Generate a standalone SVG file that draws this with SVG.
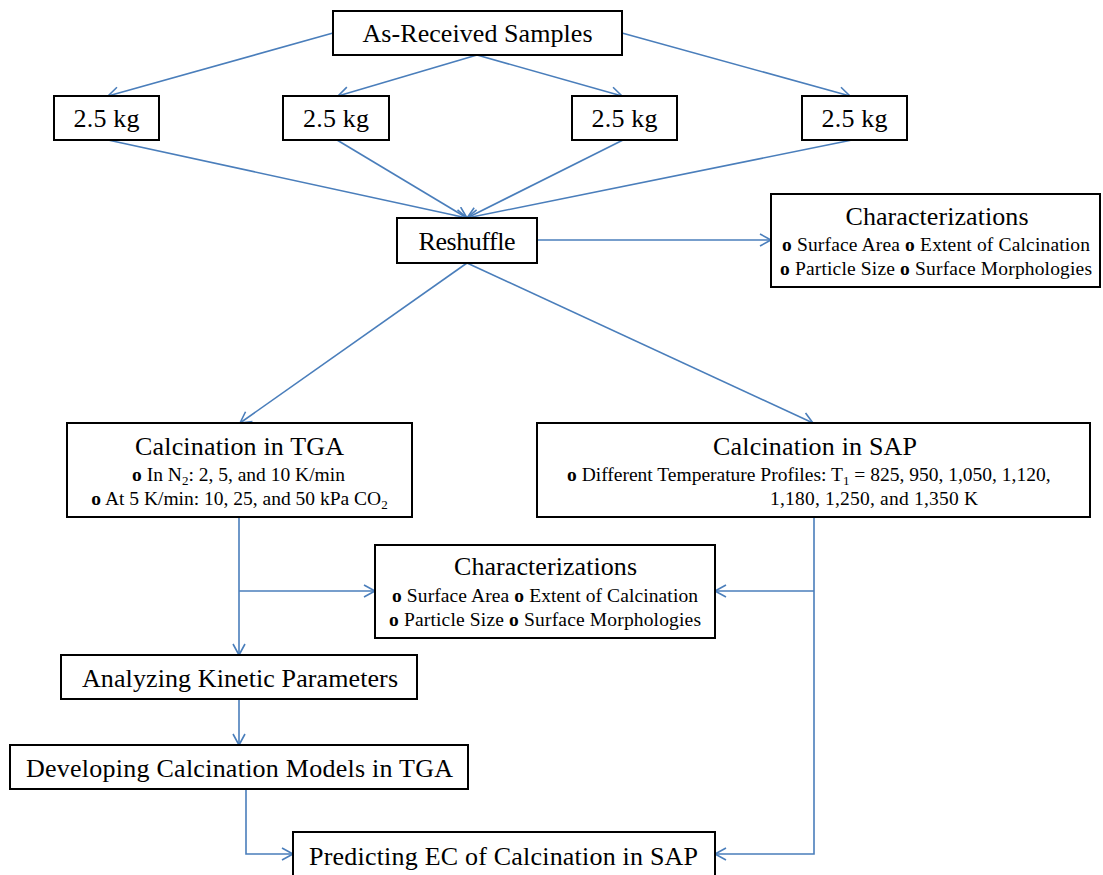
<svg xmlns="http://www.w3.org/2000/svg" width="1103" height="875" viewBox="0 0 1103 875">
<style>
.box{fill:#fff;stroke:#000;stroke-width:2}
.t{font-family:"Liberation Serif","Times New Roman",serif;fill:#000}
.h{font-size:26px;text-anchor:middle}
.s{font-size:19.5px}
.c{text-anchor:middle}
.b{font-weight:bold}
.sub{font-size:13px}
.ln{fill:none;stroke:#4A7EBB;stroke-width:1.6}
</style>
<defs>
<marker id="a" markerWidth="14" markerHeight="14" refX="12" refY="7" orient="auto" markerUnits="userSpaceOnUse">
<path d="M1,1 L12,7 L1,13" fill="none" stroke="#4A7EBB" stroke-width="1.6"/>
</marker>
</defs>
<g id="connectors">
<line class="ln" x1="333" y1="33" x2="108" y2="96" marker-end="url(#a)"/>
<line class="ln" x1="477" y1="55" x2="338" y2="96" marker-end="url(#a)"/>
<line class="ln" x1="477" y1="55" x2="622" y2="96" marker-end="url(#a)"/>
<line class="ln" x1="622" y1="33" x2="850" y2="96" marker-end="url(#a)"/>
<line class="ln" x1="108" y1="140" x2="467" y2="218" marker-end="url(#a)"/>
<line class="ln" x1="337" y1="140" x2="467" y2="218" marker-end="url(#a)"/>
<line class="ln" x1="623" y1="140" x2="467" y2="218" marker-end="url(#a)"/>
<line class="ln" x1="852" y1="140" x2="467" y2="218" marker-end="url(#a)"/>
<line class="ln" x1="537" y1="240" x2="771" y2="240" marker-end="url(#a)"/>
<line class="ln" x1="467" y1="263" x2="240" y2="423" marker-end="url(#a)"/>
<line class="ln" x1="467" y1="263" x2="813" y2="423" marker-end="url(#a)"/>
<line class="ln" x1="239" y1="517" x2="239" y2="655" marker-end="url(#a)"/>
<line class="ln" x1="239" y1="591" x2="375" y2="591" marker-end="url(#a)"/>
<line class="ln" x1="814" y1="591" x2="715" y2="591" marker-end="url(#a)"/>
<polyline class="ln" points="814,517 814,854 715,854" marker-end="url(#a)"/>
<line class="ln" x1="239" y1="699" x2="239" y2="745" marker-end="url(#a)"/>
<polyline class="ln" points="246,789 246,854 293,854" marker-end="url(#a)"/>
</g>
<g id="as-received">
<rect class="box" x="333" y="11" width="289" height="44"/>
<text class="t h" x="477.5" y="42" textLength="230" lengthAdjust="spacing">As-Received Samples</text>
</g>
<g id="kg1"><rect class="box" x="54" y="96" width="105" height="44"/><text class="t h" x="106.5" y="127" textLength="66">2.5 kg</text></g>
<g id="kg2"><rect class="box" x="283" y="96" width="106" height="44"/><text class="t h" x="336" y="127" textLength="66">2.5 kg</text></g>
<g id="kg3"><rect class="box" x="572" y="96" width="105" height="44"/><text class="t h" x="624.5" y="127" textLength="66">2.5 kg</text></g>
<g id="kg4"><rect class="box" x="802" y="96" width="105" height="44"/><text class="t h" x="854.5" y="127" textLength="66">2.5 kg</text></g>
<g id="reshuffle"><rect class="box" x="397" y="218" width="140" height="45"/><text class="t h" x="467" y="250" textLength="97">Reshuffle</text></g>
<g id="char-top">
<rect class="box" x="771" y="194" width="329" height="93"/>
<text class="t h" x="937" y="225" textLength="183">Characterizations</text>
<text class="t s c" x="936" y="251" textLength="308"><tspan class="b">o</tspan> Surface Area <tspan class="b">o</tspan> Extent of Calcination</text>
<text class="t s c" x="936" y="275" textLength="312"><tspan class="b">o</tspan> Particle Size <tspan class="b">o</tspan> Surface Morphologies</text>
</g>
<g id="tga">
<rect class="box" x="67" y="423" width="345" height="94"/>
<text class="t h" x="239.5" y="455" textLength="209">Calcination in TGA</text>
<text class="t s c" x="238.5" y="481"><tspan class="b">o</tspan> In N<tspan class="sub" dy="4">2</tspan><tspan dy="-4">: 2, 5, and 10 K/min</tspan></text>
<text class="t s c" x="239.5" y="505"><tspan class="b">o</tspan> At 5 K/min: 10, 25, and 50 kPa CO<tspan class="sub" dy="4">2</tspan></text>
</g>
<g id="sap">
<rect class="box" x="537" y="423" width="553" height="94"/>
<text class="t h" x="815" y="455" textLength="204">Calcination in SAP</text>
<text class="t s" x="567" y="481"><tspan class="b">o</tspan> Different Temperature Profiles: T<tspan class="sub" dy="4">1</tspan><tspan dy="-4"> = 825, 950, 1,050, 1,120,</tspan></text>
<text class="t s" x="770" y="505" textLength="208">1,180, 1,250, and 1,350 K</text>
</g>
<g id="char-mid">
<rect class="box" x="375" y="545" width="340" height="93"/>
<text class="t h" x="545.5" y="575" textLength="183">Characterizations</text>
<text class="t s c" x="545" y="602" textLength="306"><tspan class="b">o</tspan> Surface Area <tspan class="b">o</tspan> Extent of Calcination</text>
<text class="t s c" x="545" y="626" textLength="312"><tspan class="b">o</tspan> Particle Size <tspan class="b">o</tspan> Surface Morphologies</text>
</g>
<g id="analyzing"><rect class="box" x="61" y="655" width="356" height="44"/><text class="t h" x="240" y="687" textLength="316">Analyzing Kinetic Parameters</text></g>
<g id="developing"><rect class="box" x="10" y="745" width="458" height="44"/><text class="t h" x="239.5" y="777" textLength="427">Developing Calcination Models in TGA</text></g>
<g id="predicting"><rect class="box" x="293" y="832" width="422" height="50"/><text class="t h" x="503.5" y="865" textLength="389">Predicting EC of Calcination in SAP</text></g>
</svg>
